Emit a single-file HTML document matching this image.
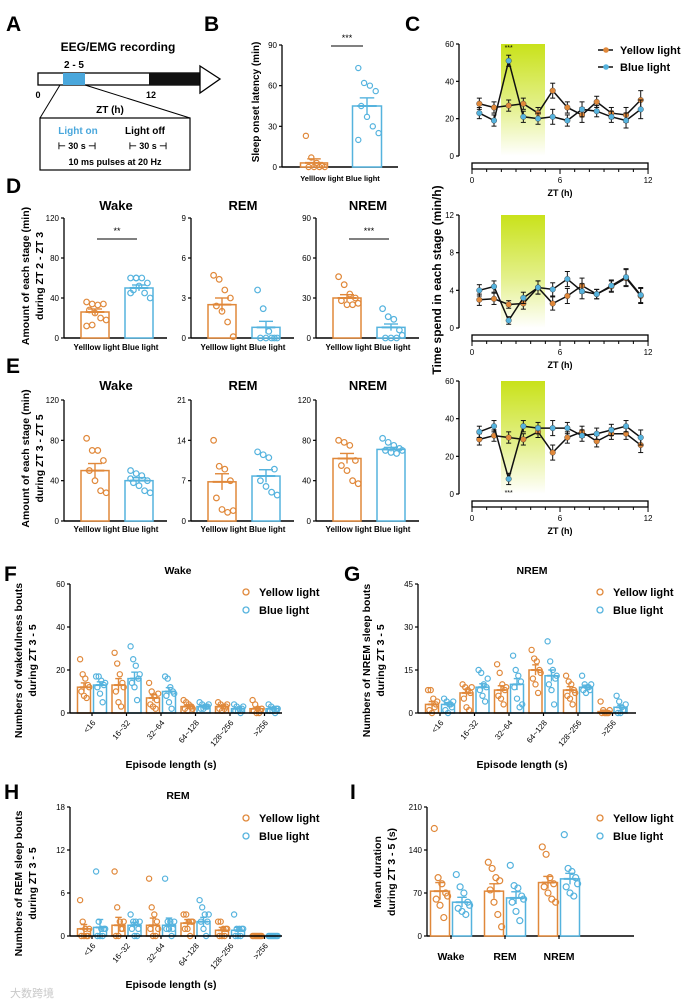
<!DOCTYPE html>
<html><head><meta charset="utf-8"><style>
html,body{margin:0;padding:0;background:#fff;}
svg{display:block;font-family:"Liberation Sans","Noto Sans CJK SC",sans-serif;}
</style></head><body>
<svg id="fig" width="685" height="1004" viewBox="0 0 685 1004" xmlns="http://www.w3.org/2000/svg">
 <rect width="685" height="1004" fill="#fff"/>
 <defs>
  <linearGradient id="lg" x1="0" y1="0" x2="0" y2="1">
   <stop offset="0" stop-color="#c9e21a"/><stop offset="0.55" stop-color="#e3f08a"/><stop offset="1" stop-color="#ffffff"/>
  </linearGradient>
 </defs>
 <g font-weight="bold">
  <text x="6" y="31" font-size="21">A</text>
  <text x="118" y="51" font-size="12" text-anchor="middle">EEG/EMG recording</text>
  <rect x="38" y="73" width="162" height="12" fill="#fff" stroke="#000" stroke-width="1.3"/>
  <rect x="63" y="73" width="22" height="12" fill="#4aa7dc"/>
  <rect x="149" y="73" width="51" height="12" fill="#111"/>
  <polygon points="200,66 220,79 200,93" fill="#fff" stroke="#000" stroke-width="1.3"/>
  <text x="74" y="68" font-size="10" text-anchor="middle">2 - 5</text>
  <text x="38" y="98" font-size="9" text-anchor="middle">0</text>
  <text x="151" y="98" font-size="9" text-anchor="middle">12</text>
  <text x="110" y="113" font-size="10" text-anchor="middle">ZT (h)</text>
  <line x1="60" y1="85" x2="40" y2="118" stroke="#000" stroke-width="1"/>
  <line x1="85" y1="85" x2="190" y2="118" stroke="#000" stroke-width="1"/>
  <rect x="40" y="118" width="150" height="52" fill="#fff" stroke="#000" stroke-width="1.2"/>
  <text x="78" y="134" font-size="10" fill="#4aa7dc" text-anchor="middle">Light on</text>
  <text x="145" y="134" font-size="10" text-anchor="middle">Light off</text>
  <text x="77" y="149" font-size="9" text-anchor="middle">⊢  30 s  ⊣</text>
  <text x="148" y="149" font-size="9" text-anchor="middle">⊢  30 s  ⊣</text>
  <text x="115" y="165" font-size="9" text-anchor="middle">10 ms pulses at 20 Hz</text>
 </g>
 <text x="204" y="31" font-size="21" font-weight="bold">B</text>
 <text x="405" y="31" font-size="21" font-weight="bold">C</text>
 <text x="6" y="193" font-size="21" font-weight="bold">D</text>
 <text x="6" y="373" font-size="21" font-weight="bold">E</text>
 <text x="4" y="581" font-size="21" font-weight="bold">F</text>
 <text x="344" y="581" font-size="21" font-weight="bold">G</text>
 <text x="4" y="799" font-size="21" font-weight="bold">H</text>
 <text x="350" y="799" font-size="21" font-weight="bold">I</text>
 <text x="10" y="997" font-size="11" fill="#c8c8c8">大数跨境</text>
</svg>
<script>
const NS="http://www.w3.org/2000/svg";
const svg=document.getElementById('fig');
const ORANGE='#e0883a', BLUE='#55b3de';

const bMeans=[3,45];
const bSems=[3,6];
const bPtsYellow=[23,7,3,1,0,0,0,0];
const bPtsBlue=[73,62,60,56,45,37,30,25,20];
const bTicks=[0,30,60,90];

const cHours=[0.5,1.5,2.5,3.5,4.5,5.5,6.5,7.5,8.5,9.5,10.5,11.5];
const c1Yellow=[28,26,27,28,23,35,26,22,29,23,22,30];
const c1Blue=[23,19,51,21,20,21,19,25,24,21,19,25];
const c1Err=[3,3,3,3,3,4,3,4,3,3,4,5];
const c1Ticks=[0,20,40,60];
const c2Yellow=[3,3.1,2.5,2.6,4.3,2.6,3.4,4.5,3.6,4.4,5.3,3.4];
const c2Blue=[4,4.4,0.8,3.2,4.3,4.1,5.2,3.9,3.6,4.5,5.4,3.5];
const c2Err=[0.6,0.6,0.4,0.6,0.7,0.7,0.8,0.8,0.5,0.6,0.9,0.8];
const c2Ticks=[0,4,8,12];
const c3Yellow=[29,31,30,29,33,22,30,33,28,32,32,26];
const c3Blue=[33,36,8,36,35,35,35,31,32,34,36,30];
const c3Err=[3,3,3,3,3,4,3,3,3,3,3,4];
const c3Ticks=[0,20,40,60];

const dMeans=[[26,50],[2.5,0.8],[30,8]];
const dSems=[[3,3],[0.5,0.45],[2.5,2.5]];
const dMax=[120,9,90];
const dTicks=[[0,40,80,120],[0,3,6,9],[0,30,60,90]];
const dPtsYellow=[[36,34,33,34,28,25,20,18,12,13],[4.7,4.4,3.6,3,2.4,2,1.2,0.1],[46,40,33,30,28,25,25,26]];
const dPtsBlue=[[60,60,60,55,48,52,45,40,45,60],[3.6,2.2,0.5,0,0,0,0,0],[22,16,14,6,0,0,0,2]];

const eMeans=[[50,40],[6.8,7.8],[62,71]];
const eSems=[[7,3],[1.4,1.1],[5,2]];
const eMax=[120,21,120];
const eTicks=[[0,40,80,120],[0,7,14,21],[0,40,80,120]];
const ePtsYellow=[[82,70,70,60,50,40,30,28],[14,9.5,9,7,4,2,1.5,1.8],[80,78,75,60,55,50,40,37]];
const ePtsBlue=[[50,47,45,40,38,35,30,28,42],[12,11.5,11,9,7,6,5,4.5],[82,78,75,72,70,68,67,70]];

const boutCats=['<16','16~32','32~64','64~128','128~256','>256'];
const fYellow=[12,13,7,3,3,2], fBlue=[13,16,10,3,2,2];
const fSemY=[2,3,1.5,0.6,0.5,0.7], fSemB=[1.5,3,1.8,0.4,0.4,0.5];
const fTicks=[0,20,40,60];
const fPtsYellow=[[25,18,16,13,10,8,7,12],[28,23,18,14,10,5,3,12],[14,10,8,6,4,3,2,9],[6,5,4,3,2,1,3,2],[5,4,3,3,2,1,2,4],[6,4,2,1,1,0,0,2]];
const fPtsBlue=[[17,17,15,13,12,9,5,14],[31,25,22,16,14,12,6,18],[17,16,12,10,8,5,2,9],[5,4,3,3,2,2,3,4],[4,3,2,2,1,1,0,3],[4,3,2,2,1,1,0,2]];
const gYellow=[3,7,8,15,8,0.5], gBlue=[3,9,10,13,9,2];
const gSemY=[1,1.3,1.5,1.8,1.2,0.5], gSemB=[0.6,1.2,2,2,0.7,0.7];
const gTicks=[0,15,30,45];
const gPtsYellow=[[8,8,5,3,1,0,2,4],[10,9,8,7,5,2,1,9],[17,14,10,8,6,5,3,9],[22,19,18,15,12,10,7,14],[13,11,10,8,6,5,3,7],[4,1,0,0,0,0,0,1]];
const gPtsBlue=[[5,4,3,2,1,0,3,4],[15,14,10,9,8,6,4,12],[20,15,13,11,9,5,2,3],[25,18,15,12,10,8,3,13],[13,10,9,8,8,7,9,10],[6,4,2,1,0,0,1,3]];
const hYellow=[1,1.5,1.5,1.8,0.8,0], hBlue=[1.2,1.5,1.5,2,0.8,0];
const hSemY=[0.6,1.1,1,0.5,0.4,0], hSemB=[1.1,0.4,1,0.6,0.4,0];
const hTicks=[0,6,12,18];
const hPtsYellow=[[5,2,1,0,0,0,0,1],[9,4,2,1,0,0,1,2],[8,4,3,2,1,0,0,1],[3,3,2,2,1,1,0,2],[2,2,1,1,0,0,0,1],[0,0,0,0,0,0,0,0]];
const hPtsBlue=[[9,2,1,1,0,0,0,1],[3,2,2,1,1,0,0,2],[8,2,2,1,1,1,0,2],[5,4,3,2,2,1,0,3],[3,1,1,1,0,0,0,1],[0,0,0,0,0,0,0,0]];

const iCats=['Wake','REM','NREM'];
const iYellow=[73,73,87], iBlue=[55,62,93];
const iSemY=[14,12,10], iSemB=[8,10,9];
const iTicks=[0,70,140,210];
const iPtsYellow=[[175,95,85,70,60,50,30,65],[120,110,95,90,75,55,35,15],[145,133,95,85,80,70,60,55]];
const iPtsBlue=[[100,80,70,55,45,40,35,50],[115,82,78,65,55,40,25,60],[165,110,105,95,80,70,65,85]];

function S(tag,attrs,parent){const e=document.createElementNS(NS,tag);for(const k in attrs)e.setAttribute(k,attrs[k]);(parent||svg).appendChild(e);return e;}
function T(x,y,s,size,parent,extra){const e=S('text',Object.assign({x:x,y:y,'font-size':size,'font-weight':'bold','text-anchor':'middle'},extra||{}),parent);e.textContent=s;return e;}
function G(name){const g=S('g',{});return g;}
function scale(v,yTop,yBot,max){return yBot-(v/max)*(yBot-yTop);}

function yAxis(g,x,yTop,yBot,ticks,max){
  const l=S('line',{x1:x,y1:yTop,x2:x,y2:yBot,stroke:'#000','stroke-width':1.3},g);
  
  ticks.forEach(t=>{const y=scale(t,yTop,yBot,max);
    S('line',{x1:x-3,y1:y,x2:x,y2:y,stroke:'#000','stroke-width':1.2},g);
    const tl=T(x-5,y+3,String(t),8,g,{'text-anchor':'end','font-weight':'normal'});
    });
}
function xAxis(g,x0,x1,y){const l=S('line',{x1:x0,y1:y,x2:x1,y2:y,stroke:'#000','stroke-width':1.6},g);
  }
function ytitle(g,x,y,lines,size,gap){lines.forEach((s,i)=>{const t=T(0,0,s,size,g,{transform:`translate(${x+i*(gap||size+3)},${y}) rotate(-90)`});
  });}
function bar(g,cx,w,mean,sem,pts,color,yTop,yBot,max,r,name){
  const y=scale(mean,yTop,yBot,max);
  const b=S('rect',{x:cx-w/2,y:y,width:w,height:yBot-y,fill:'#fff',stroke:color,'stroke-width':1.5},g);
  
  pts.forEach((p,i)=>{const off=((i%4)-1.5)*(w/5)+((i>>2)%2?w/10:0);
    const c=S('circle',{cx:cx+off,cy:scale(p,yTop,yBot,max),r:r,fill:'none',stroke:color,'stroke-width':1.2},g);
    });
  const y1=scale(mean+sem,yTop,yBot,max),y2=scale(Math.max(0,mean-sem),yTop,yBot,max);
  S('line',{x1:cx,y1:y1,x2:cx,y2:y2,stroke:color,'stroke-width':1.4},g);
  S('line',{x1:cx-w/4,y1:y1,x2:cx+w/4,y2:y1,stroke:color,'stroke-width':1.4},g);
  S('line',{x1:cx-w/3,y1:y,x2:cx+w/3,y2:y,stroke:color,'stroke-width':2},g);
}
function sig(g,x0,x1,y,s){S('line',{x1:x0,y1:y,x2:x1,y2:y,stroke:'#000','stroke-width':1},g);T((x0+x1)/2,y-5,s,9,g,{'font-weight':'normal'});}

// Panel B
(function(){const g=G('panel-b-latency-chart');const yT=45,yB=167,mx=90;
  yAxis(g,282,yT,yB,bTicks,mx);xAxis(g,282,398,yB);
  bar(g,314,27,bMeans[0],bSems[0],bPtsYellow,ORANGE,yT,yB,mx,2.6,'bar-yellow-light');
  bar(g,367,29,bMeans[1],bSems[1],bPtsBlue,BLUE,yT,yB,mx,2.6,'bar-blue-light');
  sig(g,331,363,46,'***');
  T(340,181,'Yelllow light  Blue light',7.5,g);
  ytitle(g,259,102,['Sleep onset latency (min)'],10);
})();

// Panel C
const CX0=472, CHW=14.67, CAX=459;
function lineChart(name,yT,yB,max,ticks,yel,blu,err,star,starY){
  const g=G(name);
  const gb=S('rect',{x:501,y:yT,width:44,height:yB-yT,fill:'url(#lg)'},g);
  
  yAxis(g,CAX,yT,yB,ticks,max);
  const xh=h=>CX0+h*CHW;
  const by=yB+7;
  const r=S('rect',{x:CX0,y:by,width:176,height:6,fill:'#fff',stroke:'#000','stroke-width':1.3},g);
  
  for(let h=0;h<=12;h++){S('line',{x1:xh(h),y1:by+6,x2:xh(h),y2:by+(h%6?9:11),stroke:'#000','stroke-width':1},g);}
  [0,6,12].forEach(h=>{const t=T(xh(h),by+20,String(h),8,g,{'font-weight':'normal'});});
  const zl=T(560,by+33,'ZT (h)',9,g);
  [[yel,ORANGE,'line-yellow-light'],[blu,BLUE,'line-blue-light']].forEach(([arr,col,nm])=>{
    const d=arr.map((v,i)=>(i?'L':'M')+xh(cHours[i])+','+scale(v,yT,yB,max)).join(' ');
    const p=S('path',{d:d,fill:'none',stroke:'#111','stroke-width':1.5},g);
    
    arr.forEach((v,i)=>{const x=xh(cHours[i]),y=scale(v,yT,yB,max);
      const ey=(err[i]/max)*(yB-yT);
      S('line',{x1:x,y1:y-ey,x2:x,y2:y+ey,stroke:'#111','stroke-width':1},g);
      S('line',{x1:x-2.5,y1:y-ey,x2:x+2.5,y2:y-ey,stroke:'#111','stroke-width':1},g);
      S('line',{x1:x-2.5,y1:y+ey,x2:x+2.5,y2:y+ey,stroke:'#111','stroke-width':1},g);
      const c=S('circle',{cx:x,cy:y,r:2.8,fill:col,stroke:'#333','stroke-width':0.4},g);
      });
  });
  if(star)T(xh(2.5),starY,'***',7,g,{'font-weight':'normal'});
  return g;
}
lineChart('panel-c-wake-line-chart',44,156,60,c1Ticks,c1Yellow,c1Blue,c1Err,true,50);
lineChart('panel-c-rem-line-chart',215,328,12,c2Ticks,c2Yellow,c2Blue,c2Err,false,0);
lineChart('panel-c-nrem-line-chart',381,494,60,c3Ticks,c3Yellow,c3Blue,c3Err,true,495);
(function(){const g=G('panel-c-legend');
  [[ORANGE,'Yellow light',50],[BLUE,'Blue light',67]].forEach(([c,s,y])=>{
    S('line',{x1:598,y1:y,x2:613,y2:y,stroke:'#111','stroke-width':1.5},g);
    S('circle',{cx:606,cy:y,r:2.8,fill:c},g);
    const t=T(620,y+4,s,11,g,{'text-anchor':'start'});});
  ytitle(g,441,280,['Time spend in each stage (min/h)'],12);
})();

// Panels D & E
function stagePanels(prefix,yT,yB,means,sems,maxs,ticks,py,pb,sigs,titleY,lblY,tl){
  const titles=['Wake','REM','NREM'];const ax=[64,191,316];
  titles.forEach((tt,k)=>{const g=G(prefix+'-'+tt.toLowerCase()+'-chart');
    const t=T(ax[k]+52,titleY,tt,13,g);
    yAxis(g,ax[k],yT,yB,ticks[k],maxs[k]);xAxis(g,ax[k],ax[k]+103,yB);
    bar(g,ax[k]+31,28,means[k][0],sems[k][0],py[k],ORANGE,yT,yB,maxs[k],2.8,'bar-yellow-light');
    bar(g,ax[k]+75,28,means[k][1],sems[k][1],pb[k],BLUE,yT,yB,maxs[k],2.8,'bar-blue-light');
    T(ax[k]+52,lblY,'Yelllow light  Blue light',8,g);
    if(sigs[k])sig(g,ax[k]+33,ax[k]+73,yT+21,sigs[k]);
  });
  const g=G(prefix+'-y-title');ytitle(g,29,(yT+yB)/2-2,tl,10.5,14);
}
stagePanels('panel-d',218,338,dMeans,dSems,dMax,dTicks,dPtsYellow,dPtsBlue,['**','','***'],210,350,['Amount of each stage (min)','during ZT 2 - ZT 3']);
stagePanels('panel-e',400,521,eMeans,eSems,eMax,eTicks,ePtsYellow,ePtsBlue,['','',''],390,532,['Amount of each stage (min)','during ZT 3 - ZT 5']);

// Panels F/G/H
function legend(g,x,y){[[ORANGE,'Yellow light',y],[BLUE,'Blue light',y+18]].forEach(([c,s,yy])=>{
  S('circle',{cx:x,cy:yy,r:3,fill:'none',stroke:c,'stroke-width':1.3},g);
  const t=T(x+13,yy+4,s,11,g,{'text-anchor':'start'});});}
function boutPanel(name,ax,axEnd,yT,yB,max,ticks,ym,bm,sy,sb,py,pb,title,titleX,titleY,tl,legX,legY,epY){
  const g=G(name);
  const t=T(titleX,titleY,title,10.5,g);
  yAxis(g,ax,yT,yB,ticks,max);
  const g0=ax+22;
  boutCats.forEach((c,i)=>{const cx=g0+34.5*i;
    bar(g,cx-8,13,ym[i],sy[i],py[i],ORANGE,yT,yB,max,2.6,'bar-yellow-'+c);
    bar(g,cx+8,13,bm[i],sb[i],pb[i],BLUE,yT,yB,max,2.6,'bar-blue-'+c);
    S('line',{x1:cx,y1:yB,x2:cx,y2:yB+3,stroke:'#000','stroke-width':1.2},g);
    const l=T(0,0,c,8,g,{'text-anchor':'end','font-weight':'normal',transform:`translate(${cx+4},${yB+10}) rotate(-50)`});
    });
  xAxis(g,ax,axEnd,yB);
  const ep=T((ax+axEnd)/2-5,epY,'Episode length (s)',10.5,g);
  ytitle(g,ax-48,(yT+yB)/2+12,tl,10.5,14);
  legend(g,legX,legY);
}
boutPanel('panel-f-wake-bouts',70,282,584,713,60,fTicks,fYellow,fBlue,fSemY,fSemB,fPtsYellow,fPtsBlue,'Wake',178,574,['Numbers of wakefulness bouts','during ZT 3 - 5'],246,592,768);
boutPanel('panel-g-nrem-bouts',418,636,584,713,45,gTicks,gYellow,gBlue,gSemY,gSemB,gPtsYellow,gPtsBlue,'NREM',532,574,['Numbers of NREM sleep bouts','during ZT 3 - 5'],600,592,768);
boutPanel('panel-h-rem-bouts',70,282,807,936,18,hTicks,hYellow,hBlue,hSemY,hSemB,hPtsYellow,hPtsBlue,'REM',178,799,['Numbers of REM sleep bouts','during ZT 3 - 5'],246,818,988);

// Panel I
(function(){const g=G('panel-i-mean-duration');const ax=427,yT=807,yB=936,mx=210;
  yAxis(g,ax,yT,yB,iTicks,mx);xAxis(g,ax,634,yB);
  iCats.forEach((c,i)=>{const cx=451+54*i;
    bar(g,cx-11,19,iYellow[i],iSemY[i],iPtsYellow[i],ORANGE,yT,yB,mx,3,'bar-yellow-'+c.toLowerCase());
    bar(g,cx+11,19,iBlue[i],iSemB[i],iPtsBlue[i],BLUE,yT,yB,mx,3,'bar-blue-'+c.toLowerCase());
    S('line',{x1:cx,y1:yB,x2:cx,y2:yB+3,stroke:'#000','stroke-width':1.2},g);
    const l=T(cx,960,c,10.5,g);});
  ytitle(g,381,872,['Mean duration','during ZT 3 - 5 (s)'],10.5,14);
  legend(g,600,818);
})();
</script>
</body></html>
